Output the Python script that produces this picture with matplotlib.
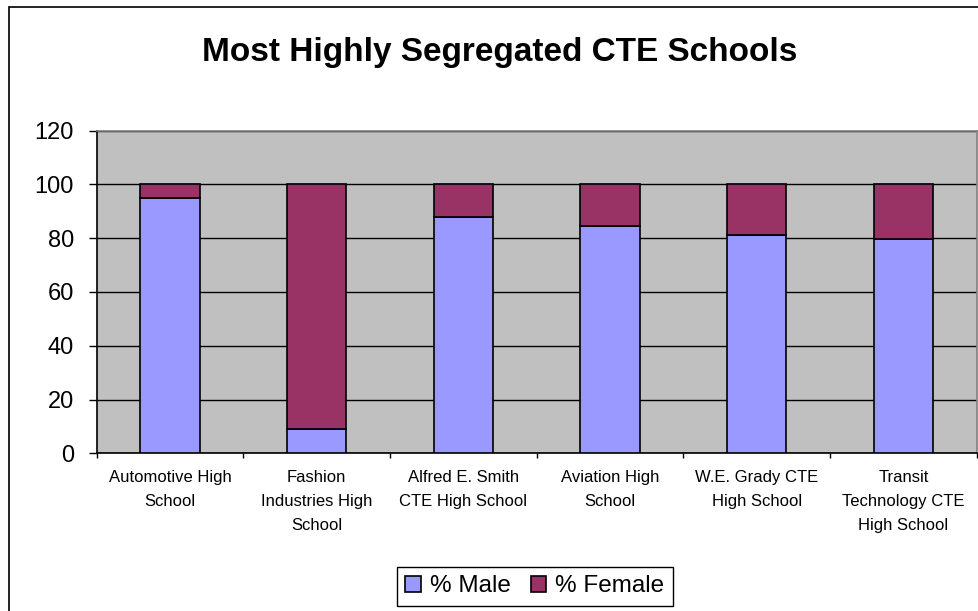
import numpy as np
import matplotlib.pyplot as plt
from matplotlib.patches import Rectangle

plt.rcParams['font.family'] = ['Liberation Sans', 'DejaVu Sans']

schools = ['Automotive High\nSchool', 'Fashion\nIndustries High\nSchool',
           'Alfred E. Smith\nCTE High School', 'Aviation High\nSchool',
           'W.E. Grady CTE\nHigh School', 'Transit\nTechnology CTE\nHigh School']
pct_male = [95, 9, 88, 84.6, 81, 79.7]
pct_female = [100 - m for m in pct_male]
y_ticks = [0, 20, 40, 60, 80, 100, 120]

male_color = '#9999FF'
female_color = '#993366'

fig = plt.figure(figsize=(9.79, 6.11), dpi=100)
ax = fig.add_axes([0.0988, 0.2581, 0.8989, 0.5283])
ax.set_facecolor('#C0C0C0')

x = np.arange(len(schools))
ax.bar(x, pct_male, width=0.405, color=male_color, edgecolor='black',
       linewidth=1.2, label='% Male', zorder=3)
ax.bar(x, pct_female, width=0.405, bottom=pct_male, color=female_color,
       edgecolor='black', linewidth=1.2, label='% Female', zorder=3)

ax.set_xlim(-0.5, len(schools) - 0.5)
ax.set_ylim(0, 120)
ax.set_yticks(y_ticks)
ax.yaxis.grid(True, color='black', linewidth=1, zorder=1)
ax.set_axisbelow(True)
ax.tick_params(axis='y', direction='out', length=6, width=1, pad=10.5,
               labelsize=17)

ax.set_xticks(x)
ax.set_xticklabels(schools, fontsize=12, linespacing=1.75)
ax.set_xticks(np.arange(-0.5, len(schools)), minor=True)
ax.tick_params(axis='x', which='major', length=0, pad=12)
ax.tick_params(axis='x', which='minor', direction='out', length=3.6, width=1)

for side in ['left', 'bottom']:
    ax.spines[side].set_color('black')
    ax.spines[side].set_linewidth(1.2)
for side in ['top', 'right']:
    ax.spines[side].set_color('#808080')
    ax.spines[side].set_linewidth(1.2)

fig.text(500 / 979, 1 - 52 / 611, 'Most Highly Segregated CTE Schools',
         ha='center', va='center', fontsize=24, fontweight='bold')

leg = fig.legend(loc='center', bbox_to_anchor=(535 / 979, 1 - 586.5 / 611),
                 ncol=2, fontsize=17.5, frameon=True, fancybox=False,
                 edgecolor='black', framealpha=1, handlelength=0.62,
                 handleheight=0.62, handletextpad=0.4, columnspacing=0.8,
                 borderpad=0.35, borderaxespad=0)
leg.get_frame().set_linewidth(1)

fig.patches.append(Rectangle((9 / 979, -0.1), 1.2, 1.1 - 7.5 / 611,
                             transform=fig.transFigure, fill=False,
                             edgecolor='black', linewidth=1.2))

fig.savefig('out.png', dpi=100)
